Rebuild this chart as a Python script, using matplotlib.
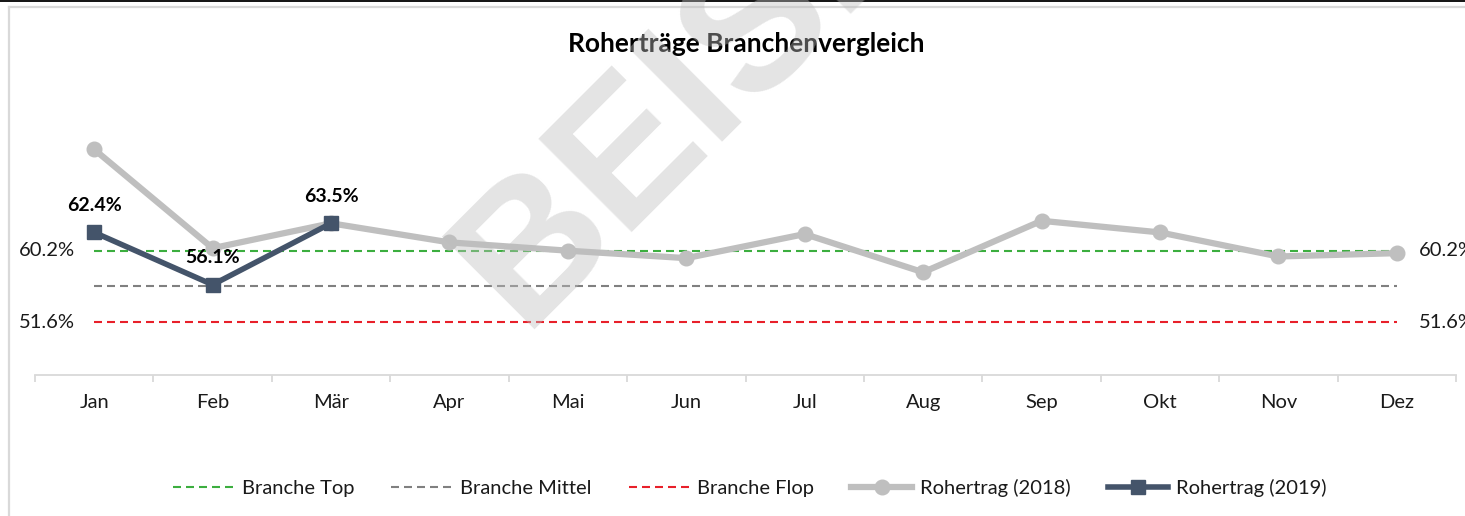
import matplotlib
matplotlib.use("Agg")
import matplotlib.pyplot as plt
from matplotlib.lines import Line2D

plt.rcParams['font.family'] = ['Lato', 'DejaVu Sans']

months = ["Jan", "Feb", "Mär", "Apr", "Mai", "Jun", "Jul", "Aug", "Sep", "Okt", "Nov", "Dez"]
branche_top = [60.2] * 12
branche_mittel = [55.9] * 12
branche_flop = [51.6] * 12
rohertrag_2018 = [72.4, 60.5, 63.5, 61.2, 60.2, 59.3, 62.2, 57.6, 63.8, 62.4, 59.5, 59.9]
rohertrag_2019 = [62.4, 56.1, 63.5]
title = "Roherträge Branchenvergleich"

W, H = 1465, 516
fig = plt.figure(figsize=(W / 100, H / 100), dpi=100)
fig.patch.set_facecolor("white")

def fx(px):
    return px / W

def fy(py):
    return 1 - py / H

# frame lines
fig.add_artist(Line2D([0, 1], [fy(0.8), fy(0.8)], color="black", lw=1.3))
fig.add_artist(Line2D([fx(9), 1], [fy(6.5), fy(6.5)], color="#d9d9d9", lw=1.6))
fig.add_artist(Line2D([fx(9), fx(9)], [fy(6.5), 0], color="#d9d9d9", lw=1.6))

ax = fig.add_axes([fx(35), fy(375), fx(1456) - fx(35), fy(90) - fy(375)])
x = list(range(len(months)))

dash = (3.84, 2.4)
ax.plot(x, branche_top, color="#3cae3f", lw=1.5, dashes=dash, label="Branche Top", zorder=2)
ax.plot(x, branche_mittel, color="#808080", lw=1.5, dashes=dash, label="Branche Mittel", zorder=2)
ax.plot(x, branche_flop, color="#e8202a", lw=1.5, dashes=dash, label="Branche Flop", zorder=2)
ax.plot(x, rohertrag_2018, color="#bfbfbf", lw=4.5, marker="o", markersize=10.5,
        label="Rohertrag (2018)", zorder=3)
ax.plot(x[:len(rohertrag_2019)], rohertrag_2019, color="#44546a", lw=4.0, marker="s",
        markersize=10, label="Rohertrag (2019)", zorder=4)

ax.set_xlim(-0.5, 11.5)
ax.set_ylim(45.22, 79.56)

for s in ["top", "left", "right"]:
    ax.spines[s].set_visible(False)
ax.spines["bottom"].set_color("#d9d9d9")
ax.spines["bottom"].set_linewidth(1.3)
ax.set_yticks([])
ax.set_xticks(x)
ax.set_xticklabels(months, fontsize=14.5, color="#1a1a1a")
ax.tick_params(axis="x", which="major", length=0, pad=14)
ax.set_xticks([i - 0.5 for i in range(13)], minor=True)
ax.tick_params(axis="x", which="minor", length=5, width=1.3, color="#d9d9d9", direction="out")

# labels for industry lines
for vals in (branche_top, branche_flop):
    ax.annotate(f"{vals[0]:.1f}%", (0, vals[0]), xytext=(-14, 0), textcoords="offset points",
                ha="right", va="center", fontsize=14.5, color="#1a1a1a")
    ax.annotate(f"{vals[-1]:.1f}%", (11, vals[-1]), xytext=(16, 0), textcoords="offset points",
                ha="left", va="center", fontsize=14.5, color="#1a1a1a", annotation_clip=False)

for i, v in enumerate(rohertrag_2019):
    ax.annotate(f"{v:.1f}%", (i, v), xytext=(0, 19.5), textcoords="offset points",
                ha="center", va="center", fontsize=14, fontweight="bold", color="black")

fig.text(fx(746), fy(44), title, ha="center", va="center", fontsize=19,
         fontweight="bold", color="black")

leg = ax.legend(loc="center", bbox_to_anchor=(fx(750), fy(488)), bbox_transform=fig.transFigure,
                ncol=5, frameon=False, fontsize=14.5, handlelength=3.0, handletextpad=0.4,
                columnspacing=1.85)
for t in leg.get_texts():
    t.set_color("#1a1a1a")

# watermark
fig.text(fx(522), fy(330), "BEISPIEL", rotation=45, rotation_mode="anchor",
         ha="left", va="baseline", fontsize=138, fontweight="bold",
         family=["Liberation Sans", "DejaVu Sans"],
         color=(190 / 255, 190 / 255, 190 / 255), alpha=0.42, zorder=10)

fig.savefig("out.png", dpi=100)
